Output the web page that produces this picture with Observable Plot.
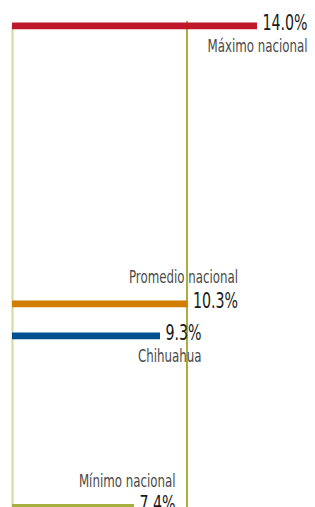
<!DOCTYPE html>
<html>
<head>
<meta charset="utf-8">
<script src="https://cdn.jsdelivr.net/npm/d3@7"></script>
<script src="https://cdn.jsdelivr.net/npm/@observablehq/plot@0.6"></script>
<style>
  html, body { margin: 0; padding: 0; background: #fff; }
  #chart svg { display: block; }
</style>
</head>
<body>
<div id="chart"></div>
<script>
// Data
const categories = ["Máximo nacional", "Promedio nacional", "Chihuahua", "Mínimo nacional"];
const values = [14.0, 10.3, 9.3, 7.4];
const valueLabels = ["14.0%", "10.3%", "9.3%", "7.4%"];
const labelBelow = [true, false, true, false];

const rows = categories.map((name, i) => ({
  name, value: values[i], text: valueLabels[i], below: labelBelow[i]
}));

const FONT = "'DejaVu Sans Condensed', 'Liberation Sans Narrow', sans-serif";
const NUM_SIZE = 20.5;
const NUM_SX = 0.77;
const LAB_SIZE = 17;
const LAB_SX = 0.775;
const GAP = 5;

const ctx = document.createElement("canvas").getContext("2d");
ctx.font = `${NUM_SIZE}px ${FONT}`;
const numWidth = (s) => ctx.measureText(s).width * NUM_SX;

const labelMarks = rows.map(r => Plot.text([r], {
  x: "value", y: "value", text: "name",
  textAnchor: "end", lineAnchor: "bottom",
  dx: GAP + numWidth(r.text), dy: r.below ? 26.5 : -20.5,
  fontSize: LAB_SIZE, fill: "#4a4a4a", fontFamily: FONT,
  className: "lab"
}));

const chart = Plot.plot({
  width: 315, height: 507,
  marginTop: 21, marginBottom: 0, marginLeft: 0, marginRight: 0,
  style: { fontFamily: FONT, background: "#fff" },
  x: { type: "linear", domain: [0, 7.4, 9.3, 10.3, 14], range: [12, 134, 160, 187.5, 257], axis: null },
  y: { type: "linear", domain: [14, 10.3, 9.3, 7.4], range: [25.3, 303.3, 335.3, 506.8], axis: null },
  color: { domain: categories, range: ["#c1172b", "#d17e00", "#004f8f", "#a6b03e"] },
  marks: [
    Plot.ruleX([0], { y1: 14, y2: 7.4, stroke: "#d3daa1", strokeWidth: 2 }),
    Plot.ruleX([10.3], { stroke: "#a7b040", strokeWidth: 2, dx: -1 }),
    Plot.ruleY(rows, { x1: 0, x2: "value", y: "value", stroke: "name", strokeWidth: 6.7 }),
    Plot.text(rows, {
      x: "value", y: "value", text: "text",
      textAnchor: "start", lineAnchor: "bottom", dx: GAP, dy: 4,
      fontSize: NUM_SIZE, fill: "#1a1a1a", fontFamily: FONT,
      className: "num"
    }),
    ...labelMarks
  ]
});

// Condense text horizontally around its anchor point (stays real text)
function condense(sel, s) {
  chart.querySelectorAll(sel + " text").forEach(t => {
    const tr = t.getAttribute("transform");
    if (tr) {
      t.setAttribute("transform", tr + ` scale(${s},1)`);
    } else {
      const x = +t.getAttribute("x") || 0, y = +t.getAttribute("y") || 0;
      t.setAttribute("transform", `translate(${x},${y}) scale(${s},1) translate(${-x},${-y})`);
    }
  });
}
condense(".num", NUM_SX);
condense(".lab", LAB_SX);

document.getElementById("chart").appendChild(chart);
</script>
</body>
</html>
